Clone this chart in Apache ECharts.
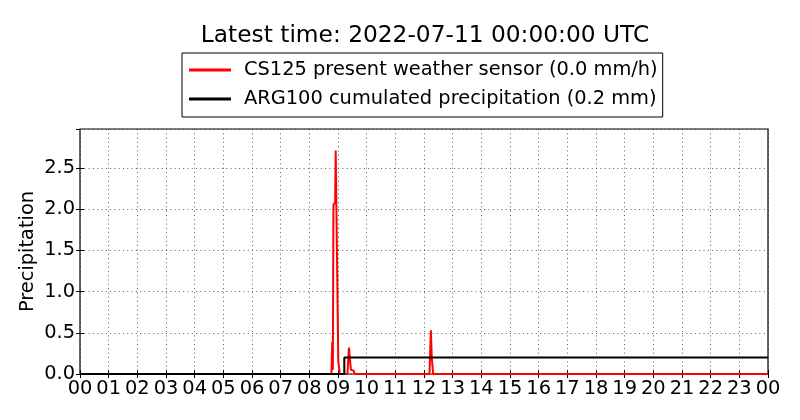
<!DOCTYPE html>
<html>
<head>
<meta charset="utf-8">
<script src="https://cdn.jsdelivr.net/npm/echarts@6/dist/echarts.min.js"></script>
<style>html,body{margin:0;padding:0;background:#fff}#c{width:800px;height:420px}</style>
</head>
<body>
<div id="c"></div>
<script>
const titleText = 'Latest time: 2022-07-11 00:00:00 UTC';
const redName = 'CS125 present weather sensor (0.0 mm/h)';
const blackName = 'ARG100 cumulated precipitation (0.2 mm)';
const redHours  = [0, 8.77, 8.80, 8.82, 8.84, 8.90, 8.92, 8.98, 9.01, 9.03, 9.06, 9.33, 9.38, 9.42, 9.45, 9.55, 9.58, 12.19, 12.24, 12.27, 12.32, 24];
const redValues = [0, 0,    0.39, 0.05, 2.05, 2.08, 2.71, 2.69, 0.15, 0.10, 0,    0,    0.32, 0.31, 0.05, 0.04, 0,    0,     0.53,  0.20,  0,     0];
const blackHours  = [0, 9.22, 9.22, 24];
const blackValues = [0, 0,    0.2,  0.2];
const xTicks = ['00','01','02','03','04','05','06','07','08','09','10','11','12','13','14','15','16','17','18','19','20','21','22','23','00'];
const yTicks = ['0.0','0.5','1.0','1.5','2.0','2.5'];

const font = 'DejaVu Sans';
const redData = redHours.map((h, i) => [h, redValues[i]]);
const blackData = blackHours.map((h, i) => [h, blackValues[i]]);
const gridLine = {show: true, lineStyle: {color: '#333', type: [1, 3.3], width: 1, opacity: 0.8}};

const chart = echarts.init(document.getElementById('c'), null, {renderer: 'canvas'});
chart.setOption({
  animation: false,
  backgroundColor: '#fff',
  textStyle: {fontFamily: font},
  title: {
    text: titleText, left: 420, top: 19, textAlign: 'center',
    textStyle: {fontFamily: font, fontSize: 23.3, fontWeight: 'normal', color: '#000'}
  },
  legend: {
    orient: 'vertical', left: 182, top: 53,
    padding: [6, 5, 7, 7], borderColor: '#000', borderWidth: 1,
    itemWidth: 42, itemHeight: 3, itemGap: 7, icon: 'rect',
    textStyle: {fontFamily: font, fontSize: 19.4, color: '#000', lineHeight: 22, padding: [0, 0, 0, 8]},
    data: [redName, blackName]
  },
  grid: {left: 80, right: 32, top: 129, bottom: 46, show: true, borderColor: '#000', borderWidth: 1.2, backgroundColor: 'transparent'},
  xAxis: [{
    type: 'value', min: 0, max: 24, interval: 1, position: 'bottom',
    axisLine: {show: false},
    axisTick: {show: true, inside: true, length: 4, lineStyle: {color: '#000'}},
    axisLabel: {show: true, margin: 5, fontFamily: font, fontSize: 19.4, color: '#000', showMaxLabel: true, showMinLabel: true,
      formatter: v => xTicks[Math.round(v)]},
    splitLine: gridLine
  }, {
    type: 'value', min: 0, max: 24, interval: 1, position: 'top',
    axisLine: {show: false}, axisLabel: {show: false}, splitLine: {show: false},
    axisTick: {show: true, inside: true, length: 4, lineStyle: {color: '#000'}}
  }],
  yAxis: [{
    type: 'value', min: 0, max: 2.97, interval: 0.5, position: 'left',
    name: 'Precipitation', nameLocation: 'middle', nameGap: 43, nameMoveOverlap: false,
    nameTextStyle: {fontFamily: font, fontSize: 19.4, color: '#000'},
    axisLine: {show: false},
    axisTick: {show: true, inside: true, length: 4, lineStyle: {color: '#000'}},
    axisLabel: {show: true, margin: 5, fontFamily: font, fontSize: 19.4, color: '#000', showMaxLabel: false,
      formatter: v => { const i = Math.round(v / 0.5); return (Math.abs(v - i * 0.5) < 1e-6 && yTicks[i]) ? yTicks[i] : ''; }},
    splitLine: gridLine
  }, {
    type: 'value', min: 0, max: 2.97, interval: 0.5, position: 'right',
    axisLine: {show: false}, axisLabel: {show: false}, splitLine: {show: false},
    axisTick: {show: true, inside: true, length: 4, lineStyle: {color: '#000'}}
  }],
  series: [{
    name: redName, type: 'line', data: redData, showSymbol: false, symbol: 'none',
    lineStyle: {color: '#ff0000', width: 2}, itemStyle: {color: '#ff0000'}, z: 3, clip: true
  }, {
    name: blackName, type: 'line', data: blackData, showSymbol: false, symbol: 'none',
    lineStyle: {color: '#000000', width: 2}, itemStyle: {color: '#000000'}, z: 4, clip: true
  }]
});
</script>
</body>
</html>
